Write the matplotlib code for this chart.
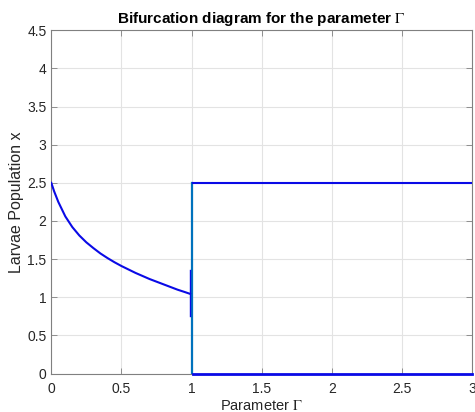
import matplotlib
matplotlib.use("Agg")
import matplotlib.pyplot as plt

plt.rcParams['font.family'] = ['Liberation Sans', 'DejaVu Sans']
plt.rcParams['mathtext.fontset'] = 'stix'

# branch before the bifurcation
gamma_low = [0.0, 0.02, 0.05, 0.1, 0.15, 0.2, 0.25, 0.3, 0.35, 0.4, 0.45,
             0.5, 0.55, 0.6, 0.65, 0.7, 0.75, 0.8, 0.85, 0.9, 0.95, 0.99]
x_low = [2.5, 2.39, 2.25, 2.06, 1.92, 1.81, 1.72, 1.645, 1.575, 1.515, 1.46,
         1.41, 1.365, 1.32, 1.28, 1.24, 1.205, 1.17, 1.135, 1.10, 1.07, 1.045]

# little transient spike just before Gamma = 1
spike_gamma = [0.99, 0.99]
spike_x = [0.75, 1.36]

# jump at Gamma = 1
jump_gamma = [1.0, 1.0]
jump_x = [0.0, 2.5]

# two branches after the bifurcation
gamma_high = [1.01, 3.0]
x_upper = [2.5, 2.5]
x_lower = [0.0, 0.0]

axis_gray = '#808080'

fig = plt.figure(figsize=(4.75, 4.12), dpi=100)
ax = fig.add_axes([0.108, 0.0932, 0.8857, 0.8334])

ax.plot(jump_gamma, jump_x, color='#0072BD', lw=1.6, zorder=3)
ax.plot(gamma_low, x_low, color='#0a0ae6', lw=1.5, zorder=4)
ax.plot(spike_gamma, spike_x, color='#0a0ae6', lw=1.0, zorder=4)
ax.plot(gamma_high, x_upper, color='#0a0ae6', lw=1.5, zorder=4)
ax.plot(gamma_high, x_lower, color='#0a0ae6', lw=2.0, zorder=4, clip_on=False)

ax.set_xlim(0, 3)
ax.set_ylim(0, 4.5)
ax.set_xticks([0, 0.5, 1, 1.5, 2, 2.5, 3])
ax.set_xticklabels(['0', '0.5', '1', '1.5', '2', '2.5', '3'])
ax.set_yticks([0, 0.5, 1, 1.5, 2, 2.5, 3, 3.5, 4, 4.5])
ax.set_yticklabels(['0', '0.5', '1', '1.5', '2', '2.5', '3', '3.5', '4', '4.5'])

ax.grid(True, color='#e3e3e3', lw=0.8)
ax.set_axisbelow(True)
for s in ax.spines.values():
    s.set_color(axis_gray)
    s.set_linewidth(0.8)
ax.tick_params(direction='in', length=4, width=0.6, color=axis_gray,
               labelcolor='#262626', labelsize=10, top=True, right=True)
ax.tick_params(axis='x', pad=6)

ax.set_title(r'Bifurcation diagram for the parameter $\Gamma$',
             fontsize=11, fontweight='bold', pad=5)
ax.set_xlabel(r'Parameter $\Gamma$', fontsize=10.5, color='#262626', labelpad=2)
ax.set_ylabel('Larvae Population x', fontsize=11.5, color='#262626', labelpad=2)

fig.savefig('out.png', dpi=100)
